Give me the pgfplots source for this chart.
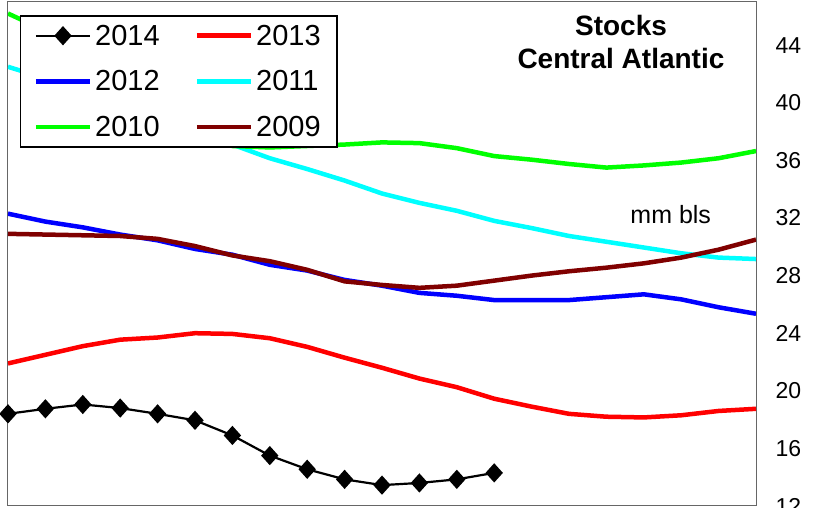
\documentclass[border=0pt]{standalone}
\usepackage{fontspec}
\setmainfont{Liberation Sans}
\usepackage{pgfplots}
\pgfplotsset{compat=1.18}
\definecolor{c2013}{RGB}{255,0,0}
\definecolor{c2012}{RGB}{0,0,255}
\definecolor{c2011}{RGB}{0,255,255}
\definecolor{c2010}{RGB}{0,255,0}
\definecolor{c2009}{RGB}{128,0,0}
\begin{document}
\begin{tikzpicture}
\useasboundingbox (-8pt,-2pt) rectangle (805pt,506pt);
\begin{axis}[
    scale only axis,
    width=748pt, height=504pt,
    xmin=0, xmax=20, ymin=12, ymax=47,
    xtick=\empty,
    ytick={12,16,...,44},
    yticklabel pos=right,
    major tick length=0pt,
    axis line style={black!60, line width=1pt},
    /pgf/number format/assume math mode=true,
    yticklabel style={font=\fontsize{23}{26}\selectfont, xshift=16pt},
    legend columns=2,
    legend cell align=left,
    legend image code/.code={
        \draw[mark repeat=2, mark phase=2, #1] plot coordinates {(0pt,0pt) (27pt,0pt) (54pt,0pt)};
    },
    legend style={
        at={(axis description cs:0.016,0.974)}, anchor=north west,
        draw=black, line width=1.5pt, fill=white,
        font=\fontsize{29}{33}\selectfont,
        inner xsep=13pt, inner ysep=4pt,
        nodes={inner xsep=3pt, inner ysep=5pt},
        row sep=14pt,
        /tikz/every even column/.append style={column sep=32pt},
    },
]
\addplot[black, line width=2.2pt, mark=diamond*, mark size=8pt, mark options={xscale=1.2}] coordinates {
(0,18.4) (1,18.75) (2,19.05) (3,18.8) (4,18.4) (5,17.95) (6,16.9) (7,15.5)
(8,14.55) (9,13.85) (10,13.45) (11,13.6) (12,13.85) (13,14.3)
};
\addlegendentry{2014}
\addplot[c2013, line width=4.5pt] coordinates {
(0,21.9) (1,22.5) (2,23.1) (3,23.55) (4,23.7) (5,24.0) (6,23.95) (7,23.65)
(8,23.05) (9,22.3) (10,21.6) (11,20.85) (12,20.25) (13,19.45) (14,18.9)
(15,18.4) (16,18.2) (17,18.15) (18,18.3) (19,18.6) (20,18.75)
};
\addlegendentry{2013}
\addplot[c2012, line width=4.5pt] coordinates {
(0,32.3) (1,31.75) (2,31.35) (3,30.85) (4,30.45) (5,29.85) (6,29.45) (7,28.75)
(8,28.35) (9,27.7) (10,27.3) (11,26.8) (12,26.6) (13,26.3) (14,26.3)
(15,26.3) (16,26.5) (17,26.7) (18,26.35) (19,25.8) (20,25.35)
};
\addlegendentry{2012}
\addplot[c2011, line width=4.5pt] coordinates {
(0,42.5) (1,41.7) (2,40.8) (3,39.9) (4,39.0) (5,38.0) (6,37.1) (7,36.15)
(8,35.4) (9,34.6) (10,33.7) (11,33.05) (12,32.5) (13,31.8) (14,31.3)
(15,30.75) (16,30.35) (17,29.95) (18,29.55) (19,29.25) (20,29.15)
};
\addlegendentry{2011}
\addplot[c2010, line width=4.5pt] coordinates {
(0,46.2) (1,45.0) (2,43.4) (3,41.6) (4,39.8) (5,38.2) (6,37.0) (7,36.9)
(8,37.0) (9,37.1) (10,37.25) (11,37.2) (12,36.85) (13,36.3) (14,36.05)
(15,35.75) (16,35.5) (17,35.65) (18,35.85) (19,36.15) (20,36.65)
};
\addlegendentry{2010}
\addplot[c2009, line width=4.5pt] coordinates {
(0,30.9) (1,30.85) (2,30.8) (3,30.75) (4,30.55) (5,30.05) (6,29.4) (7,29.0)
(8,28.4) (9,27.6) (10,27.35) (11,27.15) (12,27.3) (13,27.65) (14,28.0)
(15,28.3) (16,28.55) (17,28.85) (18,29.25) (19,29.8) (20,30.5)
};
\addlegendentry{2009}
\node[anchor=base, font=\bfseries\fontsize{28}{32}\selectfont] at (axis description cs:0.8195,0.9345) {Stocks};
\node[anchor=base, font=\bfseries\fontsize{28}{32}\selectfont] at (axis description cs:0.8195,0.869) {Central Atlantic};
\node[anchor=base, font=\fontsize{25}{30}\selectfont] at (axis description cs:0.886,0.5615) {mm bls};
\end{axis}
\end{tikzpicture}
\end{document}
